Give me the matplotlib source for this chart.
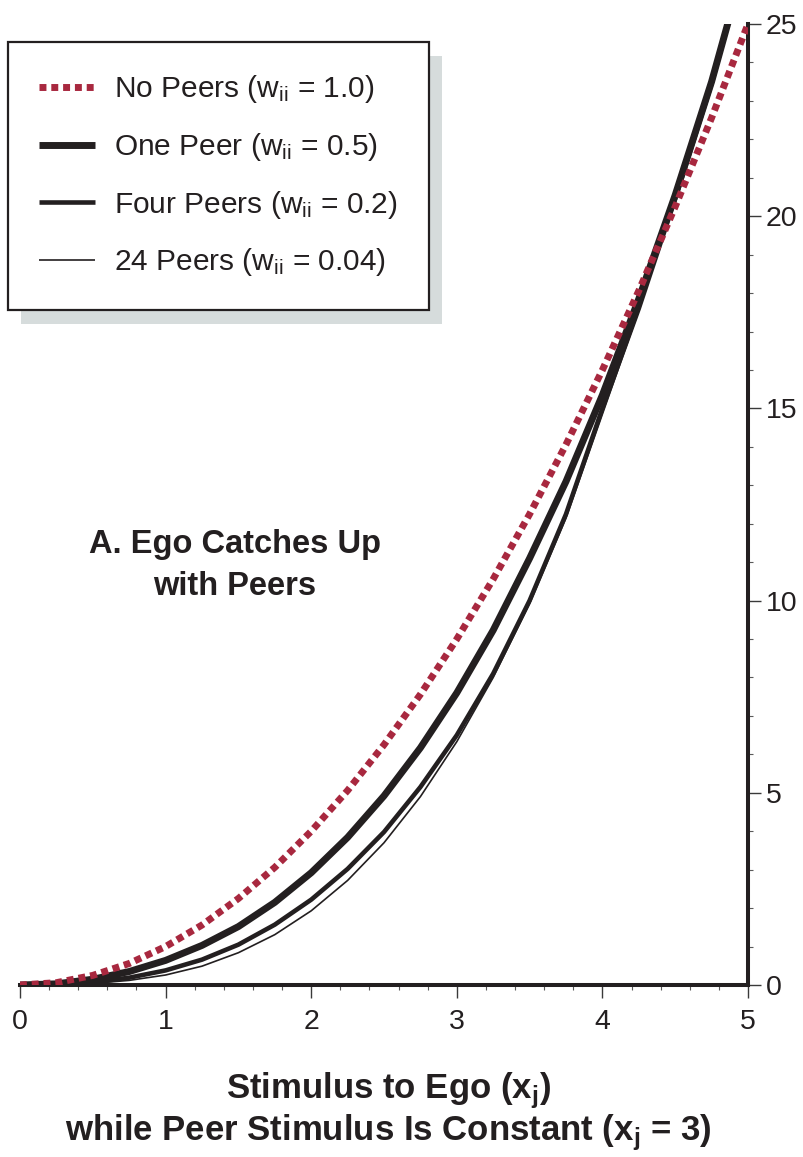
import matplotlib
matplotlib.use('Agg')
from matplotlib import pyplot as plt
import matplotlib.transforms as mtransforms
from matplotlib.patches import Rectangle
from matplotlib.ticker import MultipleLocator

plt.rcParams['font.family'] = ['Liberation Sans', 'DejaVu Sans']
plt.rcParams['mathtext.default'] = 'regular'

ink = '#231f20'
red = '#a8283f'

# stimulus to ego (x axis)
x = [0, 0.25, 0.5, 0.75, 1.0, 1.25, 1.5, 1.75, 2.0, 2.25, 2.5,
     2.75, 3.0, 3.25, 3.5, 3.75, 4.0, 4.25, 4.5, 4.75, 5.0]
# values
no_peers = [0, 0.06, 0.25, 0.56, 1.0, 1.56, 2.25, 3.06, 4.0, 5.06, 6.25,
            7.56, 9.0, 10.56, 12.25, 14.06, 16.0, 18.06, 20.25, 22.56, 25.0]
one_peer = [0, 0.03, 0.15, 0.35, 0.64, 1.03, 1.52, 2.15, 2.92, 3.84, 4.92,
            6.17, 7.6, 9.23, 11.1, 13.1, 15.35, 17.85, 20.55, 23.5, 26.9]
four_peers = [0, 0.015, 0.07, 0.19, 0.38, 0.66, 1.05, 1.57, 2.22, 3.02, 3.98,
              5.15, 6.5, 8.1, 10.0, 12.25, 15.0, 17.6, 20.45, 23.45, 26.9]
peers_24 = [0, 0.006, 0.04, 0.12, 0.26, 0.49, 0.84, 1.31, 1.93, 2.72, 3.7,
            4.9, 6.33, 8.0, 9.92, 12.15, 14.85, 17.55, 20.5, 23.5, 27.0]

labels = ['No Peers (w$_{ii}$ = 1.0)', 'One Peer (w$_{ii}$ = 0.5)',
          'Four Peers (w$_{ii}$ = 0.2)', '24 Peers (w$_{ii}$ = 0.04)']

W, H = 804, 1157
fig = plt.figure(figsize=(W/100, H/100), dpi=100)
ax = fig.add_axes([20/W, 1-985/H, 728/W, 961/H])

l1, = ax.plot(x, no_peers, color=red, lw=5, dashes=(1.0, 0.7), dash_capstyle='butt', zorder=4)
l2, = ax.plot(x, one_peer, color=ink, lw=5, solid_capstyle='butt', zorder=3)
l3, = ax.plot(x, four_peers, color=ink, lw=3.3, solid_capstyle='butt', zorder=3)
l4, = ax.plot(x, peers_24, color=ink, lw=1.2, solid_capstyle='butt', zorder=3)

ax.set_xlim(0, 5)
ax.set_ylim(0, 25)
for s in ['left', 'top']:
	ax.spines[s].set_visible(False)
for s in ['right', 'bottom']:
	ax.spines[s].set_linewidth(2.9)
	ax.spines[s].set_color(ink)
ax.yaxis.tick_right()
ax.xaxis.set_major_locator(MultipleLocator(1))
ax.xaxis.set_minor_locator(MultipleLocator(0.2))
ax.yaxis.set_major_locator(MultipleLocator(5))
ax.yaxis.set_minor_locator(MultipleLocator(1))
ax.tick_params(which='major', direction='out', length=9, width=1, color='#3a3a3a',
	labelsize=20.5, labelcolor=ink)
ax.tick_params(axis='x', which='major', pad=8)
ax.tick_params(axis='y', which='major', pad=4)
ax.tick_params(which='minor', direction='out', length=3.5, width=0.8, color='#5a5a5a')

leg = ax.legend([l1, l2, l3, l4], labels, loc='upper left',
	bbox_to_anchor=(8/W, 1-42/H), bbox_transform=fig.transFigure, borderaxespad=0,
	fontsize=21.5, handlelength=1.85, handletextpad=0.64, labelspacing=0.86,
	borderpad=1.05, fancybox=False, framealpha=1, edgecolor=ink)
leg.get_frame().set_linewidth(1.6)
for t in leg.get_texts():
	t.set_color(ink)

fig.text(235/W, 1-553/H, 'A. Ego Catches Up', ha='center', va='baseline',
	fontsize=23.5, fontweight='bold', color=ink)
fig.text(235/W, 1-595/H, 'with Peers', ha='center', va='baseline',
	fontsize=23.5, fontweight='bold', color=ink)
fig.text(388/W, 1-1098/H, 'Stimulus to Ego (x$_j$)', ha='center', va='baseline',
	fontsize=25, fontweight='bold', color=ink)
fig.text(388/W, 1-1140/H, 'while Peer Stimulus Is Constant (x$_j$ = 3)', ha='center', va='baseline',
	fontsize=25, fontweight='bold', color=ink)

# offset grey shadow behind the legend box
fig.canvas.draw()
bb = leg.get_window_extent()
ax.add_patch(Rectangle((bb.x0+13, bb.y0-14), bb.width, bb.height, transform=mtransforms.IdentityTransform(),
	facecolor='#d6dcdc', edgecolor='none', zorder=4.9, clip_on=False))

fig.savefig('out.png', dpi=100)
